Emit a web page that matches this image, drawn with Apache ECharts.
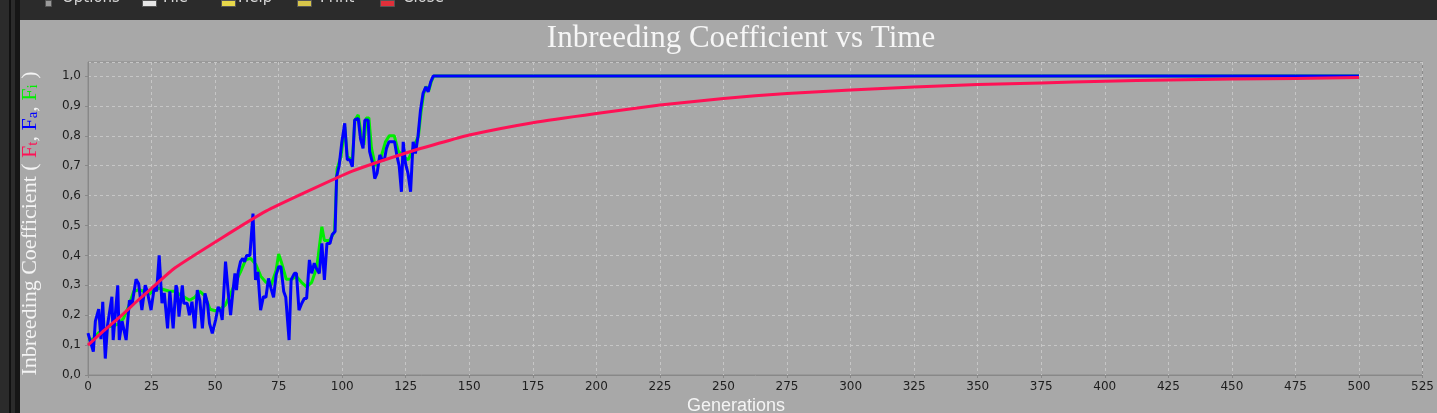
<!DOCTYPE html>
<html><head><meta charset="utf-8">
<script src="https://cdn.jsdelivr.net/npm/echarts@6/dist/echarts.min.js"></script>
<style>html,body{margin:0;padding:0;background:#2b2b2b;}#c{width:1437px;height:413px;}</style>
</head><body><div id="c"></div>
<script>
// ---- data ----
var titleText = 'Inbreeding Coefficient vs Time';
var xAxisName = 'Generations';
var toolbarItems = ['Options', 'File', 'Help', 'Print', 'Close'];
var xMin = 0, xMax = 525, xStep = 25;
var yMin = 0, yMax = 1.047, yStep = 0.1;

// Fa (blue) : generation, value
var faGen = [0,2.1,2.9,4.2,5.1,5.8,6.8,7.7,9.4,9.9,11.7,12.3,13.4,15.0,16.3,17.3,18.9,19.9,21.2,22.5,23.3,24.8,26.1,27.0,28.0,29.1,30.0,31.3,32.2,33.5,34.6,35.0,35.8,37.1,37.7,39.0,39.9,40.9,42.0,43.0,44.0,45.0,46.0,47.0,47.8,48.9,50.2,51.2,52.2,52.8,54.1,55.2,56.1,57.0,57.8,58.4,59.1,60.0,60.9,61.6,62.4,63.7,64.9,65.9,66.8,67.9,69.0,70.0,71.0,72.0,73.0,74.0,75.0,75.9,77.0,77.8,79.1,79.9,81.2,82.0,83.0,84.1,85.1,86.0,87.1,88.0,89.0,89.8,91.0,92.0,93.0,94.0,95.2,96.1,97.2,97.8,98.8,99.8,101.0,102.0,103.0,104.0,104.9,106.3,107.2,108.2,108.9,110.2,110.8,111.5,112.2,112.8,113.7,114.8,115.7,116.6,117.4,118.4,119.7,120.6,121.6,122.4,123.3,124.0,124.9,125.9,126.9,127.9,128.8,129.8,130.8,131.8,132.9,133.8,134.8,135.8,500];
var faVal = [0.14,0.078,0.18,0.22,0.12,0.245,0.055,0.167,0.262,0.117,0.30,0.117,0.18,0.117,0.25,0.234,0.32,0.306,0.217,0.30,0.28,0.217,0.295,0.28,0.40,0.24,0.275,0.156,0.28,0.156,0.30,0.29,0.195,0.30,0.24,0.24,0.20,0.245,0.156,0.284,0.25,0.156,0.273,0.24,0.173,0.139,0.184,0.228,0.212,0.184,0.379,0.273,0.20,0.279,0.34,0.284,0.345,0.379,0.39,0.379,0.40,0.40,0.54,0.318,0.345,0.217,0.262,0.26,0.323,0.29,0.26,0.334,0.362,0.362,0.279,0.26,0.117,0.318,0.34,0.34,0.217,0.24,0.256,0.256,0.385,0.34,0.374,0.357,0.34,0.44,0.318,0.44,0.44,0.47,0.48,0.663,0.70,0.775,0.842,0.72,0.72,0.697,0.853,0.858,0.79,0.758,0.853,0.853,0.747,0.75,0.70,0.657,0.674,0.736,0.72,0.72,0.758,0.78,0.78,0.78,0.73,0.70,0.613,0.78,0.708,0.674,0.613,0.78,0.741,0.797,0.886,0.942,0.964,0.947,0.98,1.0,1.0];

// Fi (green)
var fiGen = [0,2,4,6,8,10,12,14,16,18,20,22,24,26,28,30,32,34,36,38,40,42,44,46,48,50,52,54,56,58,60,62,64,66,68,70,72,74,75,76,78,80,82,84,86,88,90,92,93,95,97,98,99.5,101,102,104,105,106.3,107.5,108.5,109.5,110.5,111.5,113,115,117,118.5,120.5,122,124,126,128,130,131,132,133,134,135,136,500];
var fiVal = [0.12,0.12,0.14,0.15,0.16,0.165,0.17,0.19,0.23,0.28,0.285,0.28,0.27,0.285,0.29,0.285,0.28,0.28,0.27,0.26,0.25,0.26,0.28,0.265,0.22,0.215,0.22,0.234,0.27,0.31,0.345,0.385,0.39,0.37,0.33,0.31,0.30,0.35,0.405,0.38,0.32,0.32,0.33,0.31,0.295,0.31,0.36,0.496,0.45,0.45,0.48,0.69,0.73,0.83,0.73,0.72,0.853,0.87,0.80,0.77,0.86,0.86,0.76,0.70,0.72,0.78,0.80,0.80,0.75,0.73,0.72,0.76,0.80,0.88,0.94,0.965,0.95,0.98,1.0,1.0];

// Ft (red)
var ftGen = [0,6,12,19,25,34,52,70,86.5,104,122.6,138,150,175,200,225,250,275,300,325,350,375,400,425,450,475,500];
var ftVal = [0.10,0.147,0.19,0.245,0.29,0.357,0.455,0.548,0.615,0.682,0.736,0.775,0.803,0.844,0.875,0.903,0.925,0.942,0.953,0.963,0.972,0.977,0.983,0.987,0.99,0.992,0.995];

function pairs(g, v) { return g.map(function (x, i) { return [x, v[i]]; }); }

var chart = echarts.init(document.getElementById('c'), null, {renderer: 'canvas'});
var gridLine = {show: true, lineStyle: {color: '#c6c6c6', type: [3, 3], width: 1}};
var toolbarX = [62, 163, 238, 320, 403];
var iconX = [45, 142, 221, 297, 380];
var iconColor = ['#9a9a9a', '#e6e6e6', '#e8d84a', '#d8c64a', '#e0303a'];
var graphics = [
  {type: 'rect', left: 0, top: 0, shape: {width: 1437, height: 20}, style: {fill: '#2b2b2b'}, z: 100},
  {type: 'rect', left: 0, top: 0, shape: {width: 20, height: 413}, style: {fill: '#2b2b2b'}, z: 100},
  {type: 'rect', left: 9, top: 0, shape: {width: 2, height: 413}, style: {fill: '#111'}, z: 101},
  {type: 'rect', left: 15, top: 0, shape: {width: 5, height: 413}, style: {fill: '#161616'}, z: 101},
  {type: 'text', left: 687, top: 397, style: {text: xAxisName, fill: '#f4f4f4', font: '18px "Liberation Sans"'}, z: 50}
];
toolbarItems.forEach(function (t, i) {
  graphics.push({type: 'text', left: toolbarX[i], top: -9, style: {text: t, fill: '#d8d8d8', font: '15px "DejaVu Sans"'}, z: 102});
  graphics.push({type: 'rect', left: iconX[i], top: 0, shape: {width: i === 0 ? 6 : 14, height: 6}, style: {fill: iconColor[i], stroke: '#555', lineWidth: 1}, z: 102});
});

chart.setOption({
  animation: false,
  backgroundColor: '#a8a8a8',
  title: {
    text: titleText, left: 736, top: 18, textAlign: 'center',
    textStyle: {color: '#f6f6f6', fontFamily: 'Liberation Serif', fontWeight: 'normal', fontSize: 31}
  },
  grid: {left: 88, right: 13, top: 62, bottom: 38, show: true, borderColor: '#8a8a8a', borderWidth: 1, backgroundColor: '#a8a8a8'},
  xAxis: {
    type: 'value', min: xMin, max: xMax, interval: xStep,
    axisLine: {lineStyle: {color: '#888'}},
    axisTick: {show: true, length: 3, lineStyle: {color: '#888'}},
    axisLabel: {color: '#1e1e1e', fontFamily: 'DejaVu Sans', fontSize: 12, margin: 6},
    splitLine: gridLine
  },
  yAxis: {
    type: 'value', min: yMin, max: yMax, interval: yStep,
    axisLine: {show: true, lineStyle: {color: '#888'}},
    axisTick: {show: true, length: 3, lineStyle: {color: '#888'}},
    axisLabel: {
      color: '#1e1e1e', fontFamily: 'DejaVu Sans', fontSize: 12, margin: 7, showMaxLabel: false,
      formatter: function (v) { var r = Math.round(v * 10) / 10; if (Math.abs(r - v) > 1e-6) return ''; return r.toFixed(1).replace('.', ','); }
    },
    splitLine: gridLine,
    name: '{w|Inbreeding Coefficient ( }{r|F}{rs|t}{w|, }{b|F}{bs|a}{w|, }{g|F}{gs|i}{w| )}',
    nameLocation: 'middle', nameRotate: 90, nameGap: 47,
    nameTextStyle: {
      fontFamily: 'Liberation Serif', fontSize: 22, color: '#f4f4f4', padding: [0, 10, 0, 0],
      rich: {
        w: {color: '#f4f4f4', fontFamily: 'Liberation Serif', fontSize: 22},
        r: {color: '#ff1155', fontFamily: 'Liberation Serif', fontSize: 22},
        rs: {color: '#ff1155', fontFamily: 'Liberation Serif', fontSize: 15, verticalAlign: 'bottom', padding: [7, 0, 0, 0]},
        b: {color: '#0000ff', fontFamily: 'Liberation Serif', fontSize: 22},
        bs: {color: '#0000ff', fontFamily: 'Liberation Serif', fontSize: 15, verticalAlign: 'bottom', padding: [7, 0, 0, 0]},
        g: {color: '#00ee00', fontFamily: 'Liberation Serif', fontSize: 22},
        gs: {color: '#00ee00', fontFamily: 'Liberation Serif', fontSize: 15, verticalAlign: 'bottom', padding: [7, 0, 0, 0]}
      }
    }
  },
  series: [
    {name: 'Fi', type: 'line', data: pairs(fiGen, fiVal), showSymbol: false, symbol: 'none', lineStyle: {color: '#00ee00', width: 3}, z: 2},
    {name: 'Fa', type: 'line', data: pairs(faGen, faVal), showSymbol: false, symbol: 'none', lineStyle: {color: '#0000ff', width: 3}, z: 3},
    {name: 'Ft', type: 'line', data: pairs(ftGen, ftVal), showSymbol: false, symbol: 'none', smooth: 0.15, lineStyle: {color: '#ff1155', width: 3, join: 'round'}, z: 4}
  ],
  graphic: graphics
});
</script></body></html>
